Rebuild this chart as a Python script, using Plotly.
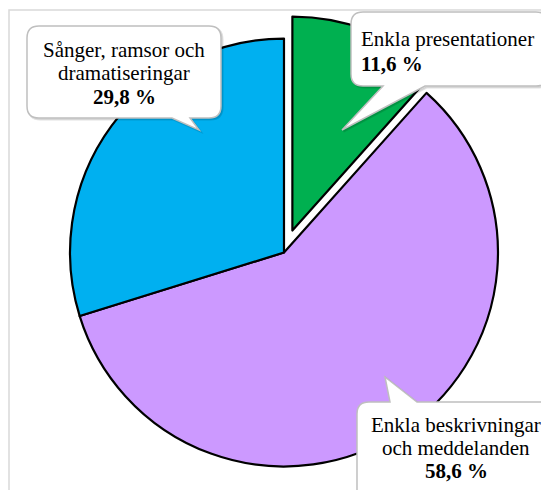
import plotly.graph_objects as go

# ---- data ----
categories = ["Enkla presentationer", "Enkla beskrivningar och meddelanden", "Sånger, ramsor och dramatiseringar"]
values = [11.6, 58.6, 29.8]
colors = ["#00B050", "#CC99FF", "#00B0F0"]
pulls = [0.11, 0, 0]

OFF = 8  # default page body margin
W, H = 549 - OFF, 490 - OFF
FONT = "Liberation Serif"

fig = go.Figure()
fig.add_trace(go.Pie(
    labels=categories, values=values, sort=False, direction="clockwise", rotation=0,
    pull=pulls, marker=dict(colors=colors, line=dict(color="black", width=2.2)),
    textinfo="none", hoverinfo="label+percent", showlegend=False,
    domain=dict(x=[0.07105, 0.94925], y=[0.0, 0.9855]),
))


def px(x, y):
    return f"{(x - OFF) / W:.5f},{1 - (y - OFF) / H:.5f}"


def bubble(x0, y0, x1, y1, tail_edge, b0, b1, tip, r=12):
    tx, ty = tip
    p = [f"M {px(x0 + r, y0)}"]
    if tail_edge == "top":
        p += [f"L {px(b0, y0)}", f"L {px(tx, ty)}", f"L {px(b1, y0)}"]
    p += [f"L {px(x1 - r, y0)}", f"Q {px(x1, y0)} {px(x1, y0 + r)}",
          f"L {px(x1, y1 - r)}", f"Q {px(x1, y1)} {px(x1 - r, y1)}"]
    if tail_edge == "bottom":
        p += [f"L {px(b1, y1)}", f"L {px(tx, ty)}", f"L {px(b0, y1)}"]
    p += [f"L {px(x0 + r, y1)}", f"Q {px(x0, y1)} {px(x0, y1 - r)}",
          f"L {px(x0, y0 + r)}", f"Q {px(x0, y0)} {px(x0 + r, y0)}", "Z"]
    return " ".join(p)


shapes = []
shapes.append(dict(type="rect", xref="paper", yref="paper",
                   x0=(9 - OFF) / W, x1=1.05, y0=-0.05, y1=1 - (10 - OFF) / H,
                   line=dict(color="#D9D9D9", width=1.5), fillcolor="rgba(0,0,0,0)", layer="below"))

bubbles = [
    (27, 26, 221, 118, "bottom", 172, 190, (199, 130)),
    (351, 12, 548, 86, "bottom", 383, 425, (342, 130)),
    (357, 402, 565, 505, "top", 390, 417, (385, 377)),
]
for b in bubbles:
    x0, y0, x1, y1, e, b0, b1, tip = b
    shapes.append(dict(type="path", xref="paper", yref="paper", layer="above",
                       path=bubble(x0 + 1.5, y0 + 1.5, x1 + 1.5, y1 + 1.5, e, b0 + 1.5, b1 + 1.5, (tip[0] + 1.5, tip[1] + 1.5)),
                       line=dict(color="rgba(0,0,0,0.12)", width=2), fillcolor="rgba(0,0,0,0.08)"))
    shapes.append(dict(type="path", xref="paper", yref="paper", layer="above",
                       path=bubble(x0, y0, x1, y1, e, b0, b1, tip),
                       line=dict(color="#BFBFBF", width=1.5), fillcolor="white"))

label_lines = [
    ("Sånger, ramsor och", 124, 56, "center", False),
    ("dramatiseringar", 124, 80, "center", False),
    ("29,8 %", 124, 103, "center", True),
    ("Enkla presentationer", 359, 45, "left", False),
    ("11,6 %", 359, 70, "left", True),
    ("Enkla beskrivningar", 456, 431, "center", False),
    ("och meddelanden", 456, 454, "center", False),
    ("58,6 %", 456, 477, "center", True),
]
annotations = []
for text, x, base, anch, bold in label_lines:
    cy = base - 6.5
    annotations.append(dict(
        text=f"<b>{text}</b>" if bold else text,
        x=(x - OFF) / W, y=1 - (cy - OFF) / H, xref="paper", yref="paper",
        xanchor=anch, yanchor="middle", showarrow=False,
        font=dict(family=FONT, size=21, color="black"),
    ))

fig.update_layout(
    width=W, height=H, margin=dict(l=0, r=0, t=0, b=0),
    paper_bgcolor="white", plot_bgcolor="white",
    shapes=shapes, annotations=annotations,
    font=dict(family=FONT),
)
fig.write_html("out.html")
